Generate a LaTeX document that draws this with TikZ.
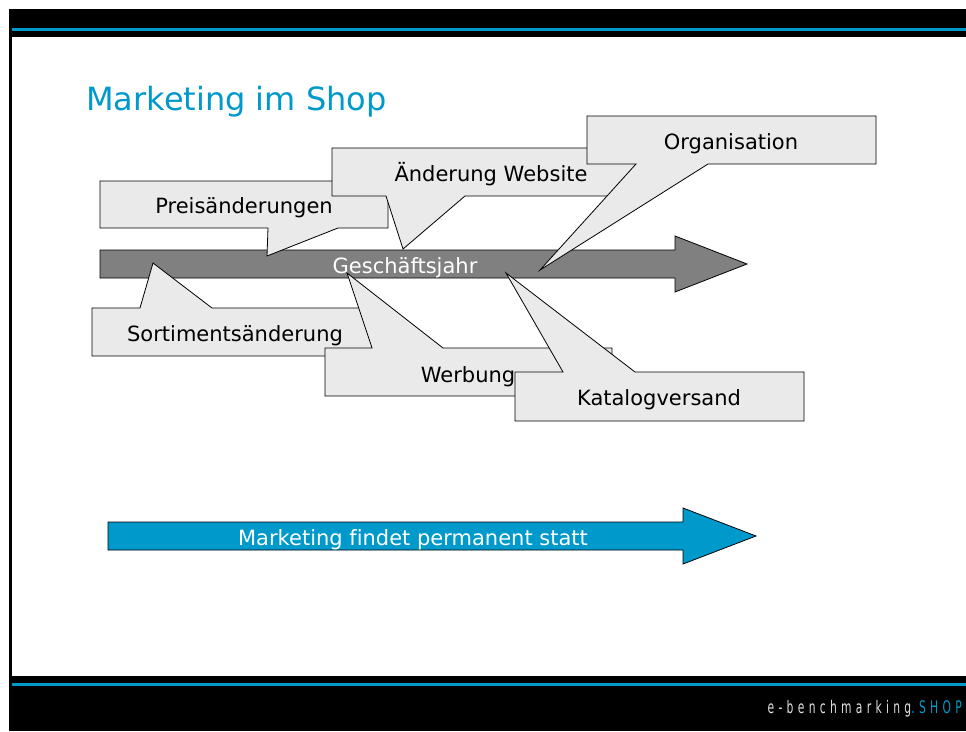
\documentclass[tikz,border=0pt]{standalone}
\usepackage{fontspec}
\setmainfont[Ligatures=NoCommon]{DejaVu Sans}
\newfontfamily\brandfont[LetterSpace=40]{DejaVu Sans}
\definecolor{shopblue}{RGB}{0,153,204}
\definecolor{bubblegray}{RGB}{234,234,234}
\definecolor{yeargray}{RGB}{128,128,128}
\definecolor{brandgray}{RGB}{225,225,225}

\begin{document}
\begin{tikzpicture}[x=0.75pt, y=-0.75pt, % one unit is one pixel, y runs downwards
                    line join=miter,
                    every node/.style = {inner sep=0pt, font=\fontsize{15.75}{18}\selectfont},
                    bubble/.style = {fill=bubblegray, draw=black, line width=0.6pt},
                    fatarrow/.style = {draw=black, line width=0.6pt},
                    bubbletext/.style = {anchor=base}
                   ]
  \useasboundingbox (0,0) rectangle (966,731);

  % frame: black bands with a blue rule
  \fill[black] (9,9) rectangle (966,37);
  \fill[black] (9,9) rectangle (12,731);
  \fill[black] (9,676) rectangle (966,731);
  \fill[shopblue] (12,28) rectangle (966,31);
  \fill[shopblue] (12,683) rectangle (966,686);

  \node[anchor=base west, text=shopblue, font=\fontsize{24}{29}\selectfont] (title) at (86,111) {Marketing im Shop};

  % the year
  \filldraw[fatarrow, fill=yeargray] (100,250) -- (675,250) -- (675,236) -- (747,264) --
        (675,292) -- (675,278) -- (100,278) -- cycle;
  \node[bubbletext, text=white] (year) at (405,273) {Geschäftsjahr};

  % callouts above
  \filldraw[bubble] (100,181) -- (388,181) -- (388,228) -- (338,228) -- (267,256) --
        (268,228) -- (100,228) -- cycle;
  \node[bubbletext] (preis) at (244,213) {Preisänderungen};
  \filldraw[bubble] (332,148) -- (650,148) -- (650,196) -- (465,196) -- (403,249) --
        (386,196) -- (332,196) -- cycle;
  \node[bubbletext] (website) at (491,181) {Änderung Website};
  \filldraw[bubble] (587,116) -- (876,116) -- (876,164) -- (708,164) -- (540,270) --
        (636,164) -- (587,164) -- cycle;
  \node[bubbletext] (orga) at (731,149) {Organisation};

  % callouts below
  \filldraw[bubble] (92,308) -- (140,308) -- (153,263) -- (212,308) -- (378,308) --
        (378,356) -- (92,356) -- cycle;
  \node[bubbletext] (sortiment) at (235,341) {Sortimentsänderung};
  \filldraw[bubble] (325,348) -- (372,348) -- (347,273) -- (443,348) -- (612,348) --
        (612,396) -- (325,396) -- cycle;
  \node[bubbletext] (werbung) at (468,382) {Werbung};
  \filldraw[bubble] (515,372) -- (563,372) -- (506,273) -- (635,372) -- (804,372) --
        (804,421) -- (515,421) -- cycle;
  \node[bubbletext] (katalog) at (659,405) {Katalogversand};

  % always on
  \filldraw[fatarrow, fill=shopblue] (108,522) -- (683,522) -- (683,508) -- (756,536) --
        (683,564) -- (683,550) -- (108,550) -- cycle;
  \node[bubbletext, text=white] (always) at (413,545) {Marketing findet permanent statt};

  \node[anchor=base east, text=brandgray, font=\brandfont\fontsize{13}{15}\selectfont] (brand)
        at (962,713) {\scalebox{0.62}[1]{e-benchmarking\textcolor{shopblue}{.SHOP}}};
\end{tikzpicture}
\end{document}
